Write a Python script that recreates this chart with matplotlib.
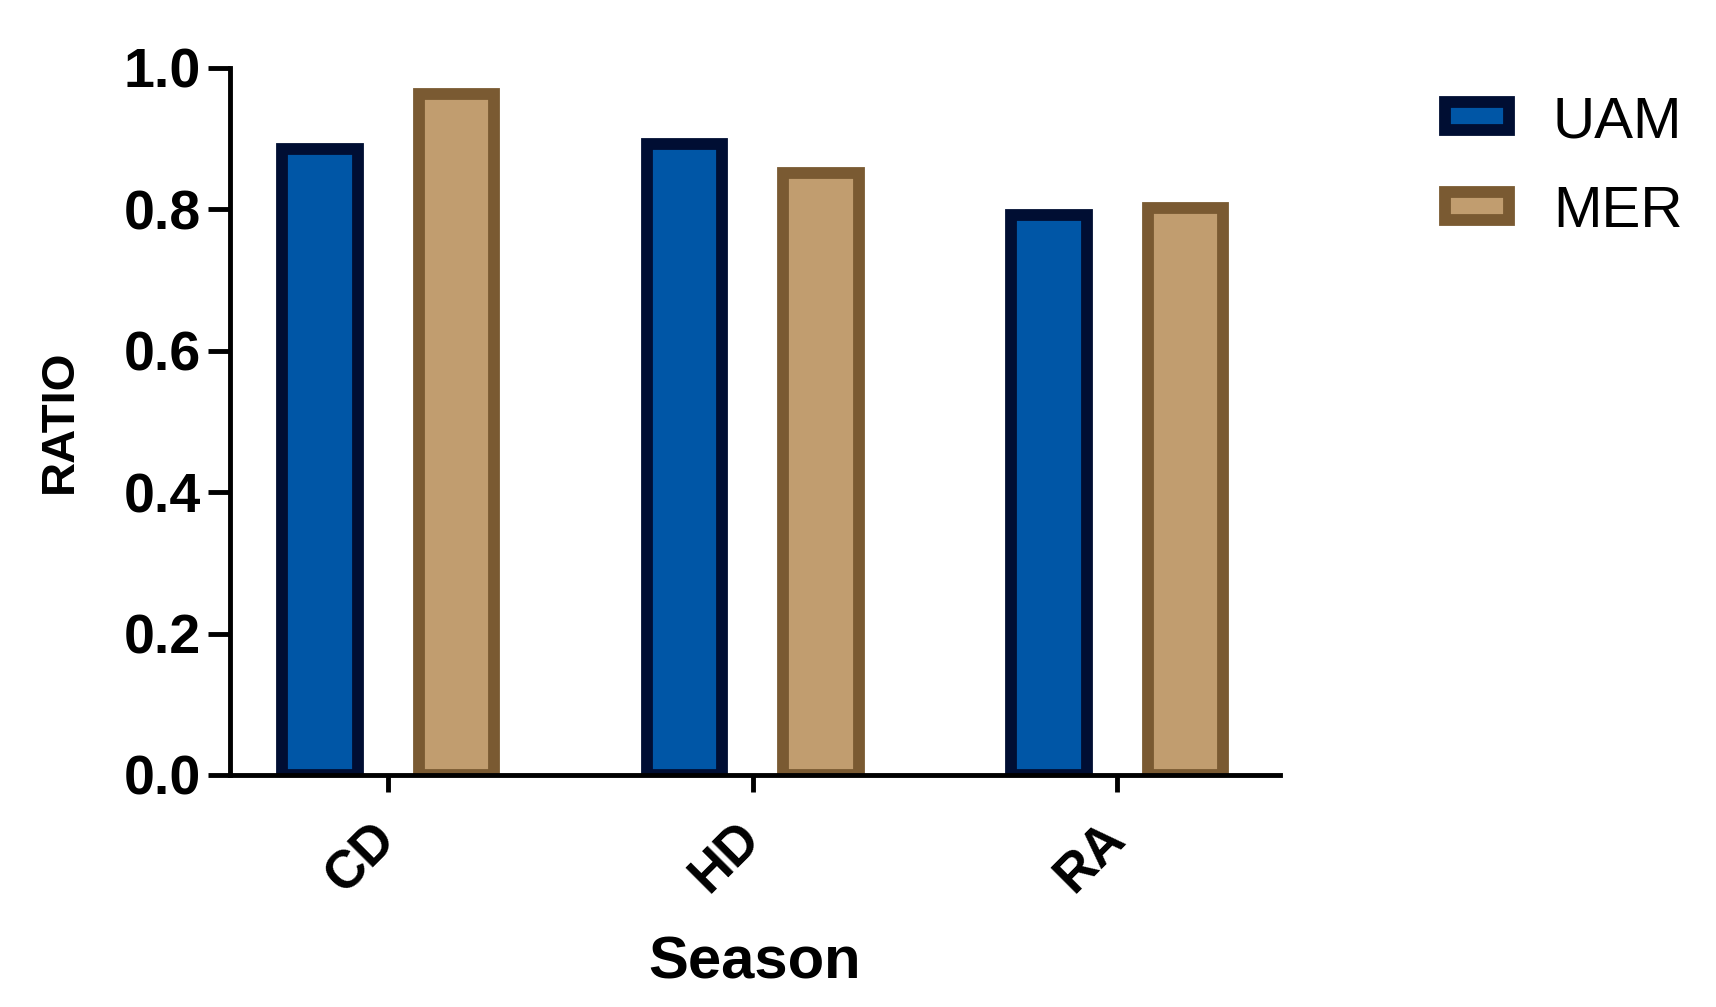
import matplotlib
matplotlib.use("Agg")
import matplotlib.pyplot as plt
import numpy as np

plt.rcParams['font.family'] = ['Liberation Sans', 'DejaVu Sans']

seasons = ['CD', 'HD', 'RA']
uam = [0.885, 0.893, 0.792]
mer = [0.963, 0.852, 0.802]
yticks = [0.0, 0.2, 0.4, 0.6, 0.8, 1.0]

uam_fill, uam_edge = '#0056A6', '#000E33'
mer_fill, mer_edge = '#C19D6F', '#7A5A32'

fig = plt.figure(figsize=(17.16, 10.07), dpi=100)
ax = fig.add_axes([0.134, 0.2304, 0.612, 0.7021])

x = np.arange(len(seasons))
w = 0.207
off = 0.187
ax.bar(x - off, uam, w, color=uam_fill, edgecolor=uam_edge, linewidth=8.5, label='UAM', zorder=3)
ax.bar(x + off, mer, w, color=mer_fill, edgecolor=mer_edge, linewidth=8.5, label='MER', zorder=3)

ax.set_xlim(-0.434, 2.447)
ax.set_ylim(0, 1.0)
ax.set_yticks(yticks)
ax.set_yticklabels([f'{v:.1f}' for v in yticks])
ax.set_xticks(x)
ax.set_xticklabels(seasons, rotation=45, ha='right', va='center', rotation_mode='anchor')

for s in ['top', 'right']:
    ax.spines[s].set_visible(False)
for s in ['left', 'bottom']:
    ax.spines[s].set_linewidth(3.5)
ax.spines['bottom'].set_zorder(4)

ax.tick_params(axis='y', length=16, width=3.5, pad=5, labelsize=40)
ax.tick_params(axis='x', length=12, width=3.5, pad=28, labelsize=38)
for lab in ax.get_xticklabels() + ax.get_yticklabels():
    lab.set_fontweight('bold')

ax.set_ylabel('RATIO', fontsize=34, fontweight='bold', labelpad=30)
ax.set_xlabel('Season', fontsize=43, fontweight='bold', labelpad=24)

fig.legend(loc='upper left', bbox_to_anchor=(1445 / 1716, 1 - 95 / 1007),
           bbox_transform=fig.transFigure, frameon=False, fontsize=42,
           handlelength=1.1, handleheight=0.36, handletextpad=0.75,
           labelspacing=0.62, borderpad=0, borderaxespad=0)

fig.savefig('out.png', dpi=100)
